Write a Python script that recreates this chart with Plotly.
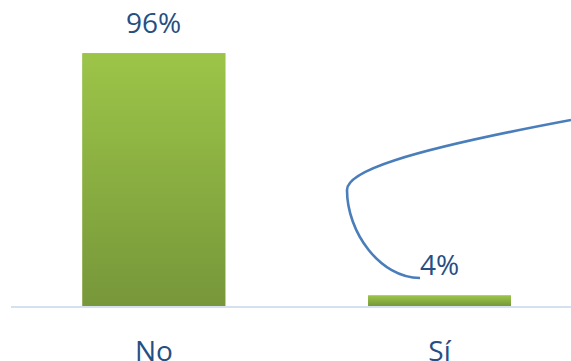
import plotly.graph_objects as go

categories = ["No", "Sí"]
values = [96, 4]
labels = ["96%", "4%"]

W, H = 571, 361
ML, MR, MT, MB = 11, 0, 0, 55
XR = [-0.5, 1.46]
YR = [0, 116.2]
BW = 0.5

fig = go.Figure()

# base bars (category axis)
fig.add_trace(go.Bar(
    x=categories, y=values, width=BW,
    marker=dict(color="#8db043", line=dict(width=0)),
    hoverinfo="skip", showlegend=False,
))

# gradient overlay for each bar on a hidden linear axis with same range
for i, v in enumerate(values):
    x0, x1 = i - BW / 2, i + BW / 2
    fig.add_trace(go.Scatter(
        x=[x0, x1, x1, x0, x0], y=[0, 0, v, v, 0],
        xaxis="x2", mode="lines", line=dict(width=0),
        fill="toself",
        fillgradient=dict(type="vertical",
                          colorscale=[[0, "#77973a"], [1, "#9cc548"]]),
        hoverinfo="skip", showlegend=False,
    ))

for c, v, t in zip(categories, values, labels):
    fig.add_annotation(x=c, y=v, text=t, showarrow=False,
                       yanchor="middle", yshift=31,
                       font=dict(family="Open Sans", size=28, color="#254e83"))

def px2paper(px, py):
    return (px - ML) / (W - ML - MR), (H - MB - py) / (H - MT - MB)

pts = [(420, 278), (380, 278), (347, 232), (347, 190),
       (347, 172), (400, 152), (571, 120)]
pp = [px2paper(*p) for p in pts]
path = "M {:.4f},{:.4f} C {:.4f},{:.4f} {:.4f},{:.4f} {:.4f},{:.4f} C {:.4f},{:.4f} {:.4f},{:.4f} {:.4f},{:.4f}".format(
    *[c for p in pp for c in p])
fig.add_shape(type="path", path=path, xref="paper", yref="paper",
              line=dict(color="#4a7ebb", width=2.6), layer="above")

fig.update_layout(
    width=W, height=H,
    margin=dict(l=ML, r=MR, t=MT, b=MB, autoexpand=False),
    paper_bgcolor="white", plot_bgcolor="white",
    showlegend=False,
    xaxis=dict(type="category", range=XR, showgrid=False, zeroline=False,
               showline=True, linecolor="#d5e0f0", linewidth=2,
               automargin=False,
               ticks="", tickfont=dict(family="Open Sans", size=28, color="#254e83"),
               ticklabelstandoff=19),
    xaxis2=dict(range=XR, overlaying="x", visible=False),
    yaxis=dict(range=YR, visible=False, automargin=False),
)

fig.write_html("out.html")
